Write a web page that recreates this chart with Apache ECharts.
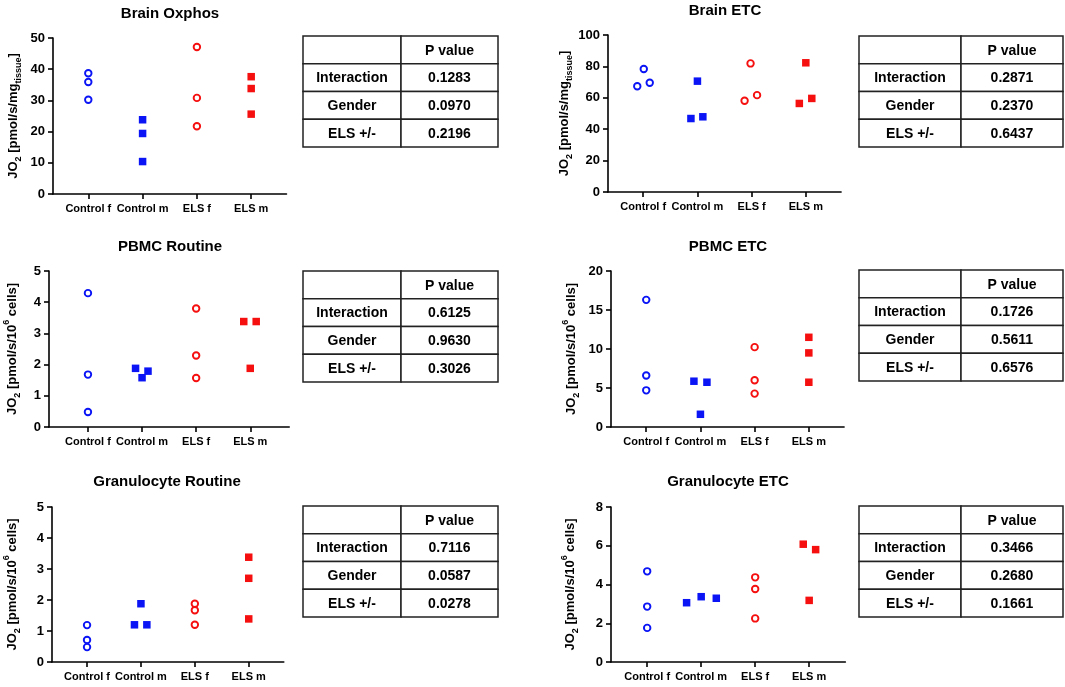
<!DOCTYPE html>
<html>
<head>
<meta charset="utf-8">
<script src="https://cdn.jsdelivr.net/npm/echarts@6/dist/echarts.min.js"></script>
<style>
  html, body { margin: 0; padding: 0; background: #fff; }
  #main { width: 1065px; height: 687px; }
</style>
</head>
<body>
<div id="main"></div>
<script>
// categories and tables
var categories = ['Control f', 'Control m', 'ELS f', 'ELS m'];
var panelTitles = ['Brain Oxphos', 'Brain ETC', 'PBMC Routine', 'PBMC ETC', 'Granulocyte Routine', 'Granulocyte ETC'];
var rowLabels = ['Interaction', 'Gender', 'ELS +/-'];
var yMax = [50, 100, 5, 20, 5, 8];
var yStep = [10, 20, 1, 5, 1, 2];
var yNames = [
    'JO{sub|2} [pmol/s/mg{sub|tissue}]',
    'JO{sub|2} [pmol/s/mg{sub|tissue}]',
    'JO{sub|2} [pmol/s/10{sup|6} cells]',
    'JO{sub|2} [pmol/s/10{sup|6} cells]',
    'JO{sub|2} [pmol/s/10{sup|6} cells]',
    'JO{sub|2} [pmol/s/10{sup|6} cells]'
];

// values per group (Control f, Control m, ELS f, ELS m)
var brainOxphos = [[38.7, 35.9, 30.2], [23.8, 19.4, 10.4], [47.1, 30.8, 21.7], [37.6, 33.8, 25.6]];
var brainEtc = [[67.4, 78.3, 69.6], [70.6, 46.8, 47.9], [81.9, 58.1, 61.7], [82.3, 56.4, 59.6]];
var pbmcRoutine = [[4.29, 1.68, 0.48], [1.88, 1.58, 1.79], [3.80, 2.29, 1.57], [3.38, 3.38, 1.88]];
var pbmcEtc = [[16.3, 6.6, 4.7], [5.87, 5.74, 1.63], [10.24, 6.0, 4.28], [11.5, 9.5, 5.74]];
var granRoutine = [[1.19, 0.71, 0.48], [1.20, 1.88, 1.20], [1.88, 1.67, 1.20], [3.38, 2.70, 1.39]];
var granEtc = [[4.68, 2.86, 1.76], [3.06, 3.37, 3.29], [4.37, 3.77, 2.25], [6.08, 5.80, 3.18]];

// horizontal scatter of the points around each group (in group units)
var brainOxphosJitter = [[0, 0, 0], [0, 0, 0], [0, 0, 0], [0, 0, 0]];
var brainEtcJitter = [[-0.11, 0.01, 0.12], [0, -0.12, 0.10], [-0.02, -0.13, 0.10], [0, -0.12, 0.11]];
var pbmcRoutineJitter = [[0, 0, 0], [-0.12, 0, 0.11], [0, 0, 0], [-0.12, 0.11, 0]];
var pbmcEtcJitter = [[0, 0, 0], [-0.12, 0.12, 0], [0, 0, 0], [0, 0, 0]];
var granRoutineJitter = [[0, 0, 0], [-0.12, 0, 0.11], [0, 0, 0], [0, 0, 0]];
var granEtcJitter = [[0, 0, 0], [-0.27, 0, 0.28], [0, 0, 0], [-0.11, 0.12, 0]];

// p values
var pInteraction = ['0.1283', '0.2871', '0.6125', '0.1726', '0.7116', '0.3466'];
var pGender = ['0.0970', '0.2370', '0.9630', '0.5611', '0.0587', '0.2680'];
var pEls = ['0.2196', '0.6437', '0.3026', '0.6576', '0.0278', '0.1661'];

var panelValues = [brainOxphos, brainEtc, pbmcRoutine, pbmcEtc, granRoutine, granEtc];
var panelJitter = [brainOxphosJitter, brainEtcJitter, pbmcRoutineJitter, pbmcEtcJitter, granRoutineJitter, granEtcJitter];

// layout of each panel (pixels)
var layout = [
    {gx: 53, gy: 38, gh: 156, sp: 54.3, xmin: 0.35, gap: 30, tx: 170, ty: 14, bx: 303, by: 36, cw: [98, 97]},
    {gx: 608, gy: 35, gh: 157, sp: 54.2, xmin: 0.35, gap: 28, tx: 725, ty: 11, bx: 859, by: 36, cw: [102, 102]},
    {gx: 49, gy: 271, gh: 156, sp: 54.1, xmin: 0.28, gap: 27, tx: 170, ty: 247, bx: 303, by: 271, cw: [98, 97]},
    {gx: 611, gy: 271, gh: 156, sp: 54.2, xmin: 0.35, gap: 30, tx: 728, ty: 247, bx: 859, by: 270, cw: [102, 102]},
    {gx: 52, gy: 507, gh: 155, sp: 53.9, xmin: 0.35, gap: 30, tx: 167, ty: 482, bx: 303, by: 506, cw: [98, 97]},
    {gx: 611, gy: 507, gh: 155, sp: 54.0, xmin: 0.33, gap: 31, tx: 728, ty: 482, bx: 859, by: 506, cw: [102, 102]}
];

var FONT = '"Liberation Sans", Arial, sans-serif';
var BLUE = '#0a14f5';
var RED = '#f50f0f';
var groupStyle = [
    {symbol: 'circle', size: 6.5, itemStyle: {color: '#fff', borderColor: BLUE, borderWidth: 1.9, opacity: 1}},
    {symbol: 'rect', size: 7.5, itemStyle: {color: BLUE, opacity: 1}},
    {symbol: 'circle', size: 6.5, itemStyle: {color: '#fff', borderColor: RED, borderWidth: 1.9, opacity: 1}},
    {symbol: 'rect', size: 7.5, itemStyle: {color: RED, opacity: 1}}
];

var grids = [], xAxes = [], yAxes = [], series = [], graphics = [];

layout.forEach(function (L, p) {
    var xmax = 5 - L.xmin;
    grids.push({
        left: L.gx, top: L.gy, width: (xmax - L.xmin) * L.sp, height: L.gh,
        containLabel: false, outerBoundsMode: 'none'
    });
    xAxes.push({
        type: 'value', gridIndex: p, min: L.xmin, max: xmax,
        splitLine: {show: false},
        axisLine: {show: true, onZero: false, lineStyle: {color: '#000', width: 1.6}},
        axisTick: {show: true, length: 5, customValues: [1, 2, 3, 4], lineStyle: {color: '#000', width: 1.6}},
        axisLabel: {
            customValues: [1, 2, 3, 4], margin: 9, color: '#000',
            fontFamily: FONT, fontWeight: 'bold', fontSize: 11,
            formatter: function (v) { return categories[Math.round(v) - 1]; }
        }
    });
    yAxes.push({
        type: 'value', gridIndex: p, min: 0, max: yMax[p], interval: yStep[p],
        splitLine: {show: false},
        axisLine: {show: true, lineStyle: {color: '#000', width: 1.6}},
        axisTick: {show: true, length: 5, lineStyle: {color: '#000', width: 1.6}},
        axisLabel: {margin: 8, color: '#000', fontFamily: FONT, fontWeight: 'bold', fontSize: 13},
        name: yNames[p], nameLocation: 'middle', nameRotate: 90, nameGap: L.gap,
        nameTextStyle: {
            color: '#000', fontFamily: FONT, fontWeight: 'bold', fontSize: 13, lineHeight: 20,
            rich: {
                sub: {fontFamily: FONT, fontWeight: 'bold', fontSize: 9, lineHeight: 10, verticalAlign: 'bottom', color: '#000'},
                sup: {fontFamily: FONT, fontWeight: 'bold', fontSize: 9, lineHeight: 10, verticalAlign: 'top', color: '#000'}
            }
        }
    });
    panelValues[p].forEach(function (vals, g) {
        var st = groupStyle[g];
        series.push({
            type: 'scatter', xAxisIndex: p, yAxisIndex: p,
            symbol: st.symbol, symbolSize: st.size, itemStyle: st.itemStyle,
            emphasis: {disabled: true}, silent: true,
            data: vals.map(function (v, i) { return [g + 1 + panelJitter[p][g][i], v]; })
        });
    });

    // title
    graphics.push({
        type: 'text', x: L.tx, y: L.ty,
        style: {text: panelTitles[p], font: 'bold 15px ' + FONT, fill: '#000', align: 'center', verticalAlign: 'middle'}
    });

    // p value table
    var rows = [['', 'P value'],
        [rowLabels[0], pInteraction[p]],
        [rowLabels[1], pGender[p]],
        [rowLabels[2], pEls[p]]];
    var rh = 27.75;
    rows.forEach(function (row, r) {
        var cx = L.bx;
        row.forEach(function (cell, c) {
            var w = L.cw[c];
            graphics.push({
                type: 'rect',
                shape: {x: cx, y: L.by + r * rh, width: w, height: rh},
                style: {fill: '#fff', stroke: '#222', lineWidth: 1.5}
            });
            if (cell) {
                graphics.push({
                    type: 'text', x: cx + w / 2, y: L.by + r * rh + rh / 2 + 1,
                    style: {text: cell, font: 'bold 14px ' + FONT, fill: '#000', align: 'center', verticalAlign: 'middle'}
                });
            }
            cx += w;
        });
    });
});

var chart = echarts.init(document.getElementById('main'));
chart.setOption({
    animation: false,
    backgroundColor: '#fff',
    grid: grids,
    xAxis: xAxes,
    yAxis: yAxes,
    series: series,
    graphic: graphics
});
</script>
</body>
</html>
